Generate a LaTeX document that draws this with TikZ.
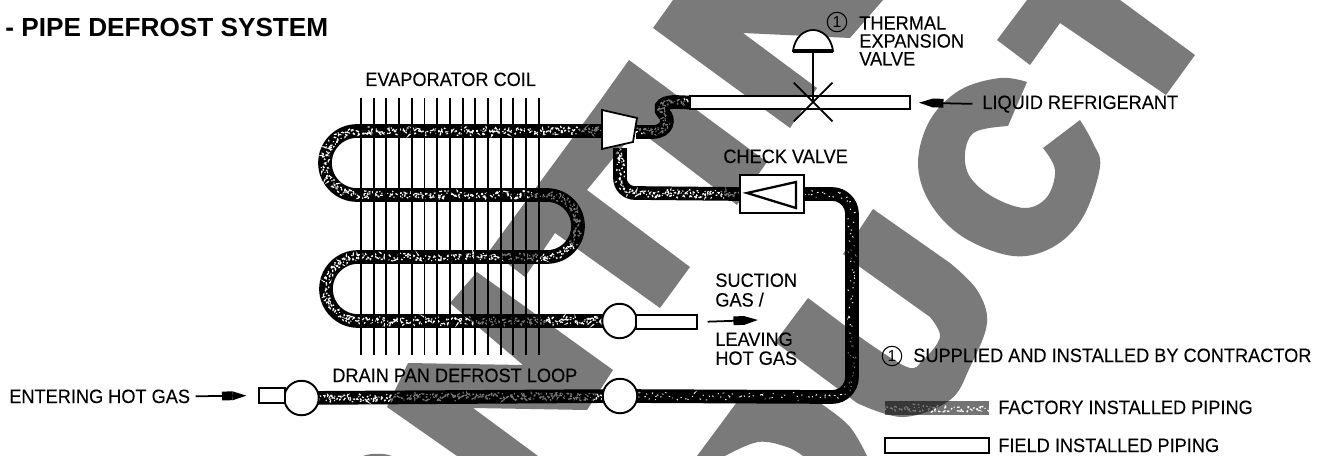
\documentclass[tikz,border=0pt]{standalone}
\usepackage{fontspec}
\setmainfont{Liberation Sans}
\newfontfamily\labfont[FakeStretch=0.94,FakeBold=0.12]{Liberation Sans}
\usepackage{tikz}
\usetikzlibrary{arrows.meta,decorations.pathmorphing,backgrounds,shapes.misc}
\definecolor{wmgray}{RGB}{122,122,122}
\tikzset{
  lab/.style={font=\labfont\fontsize{11}{10.2}\selectfont,inner sep=0pt,align=left},
  num/.style={circle,draw=black,line width=0.6pt,minimum size=3.9mm,inner sep=0pt,font=\fontsize{9}{9}\selectfont},
  hdr/.style={circle,draw=black,fill=white,line width=1.1pt,minimum size=6.9mm,inner sep=0pt},
  fieldp/.style={rectangle,draw=black,fill=white,line width=1.1pt,inner sep=0pt},
  chk/.style={rectangle,draw=black,fill=white,line width=0.7pt,inner sep=0pt,minimum width=12.8mm,minimum height=7.6mm},
  txv/.style={cross out,draw=black,line width=1pt,inner sep=0pt,minimum size=7.4mm},
  fin/.style={line width=1.05pt,black},
  speck/.style={draw=white,line width=0.7pt,decorate,line cap=butt,
    decoration={random steps,segment length=1.2pt,amplitude=2.5pt},
    dash pattern=on 1.1pt off 1pt on 0.5pt off 1.5pt on 1.4pt off 1.2pt},
  pipe/.style={draw=black,line width=7.8pt,postaction={speck},postaction={speck,dash pattern=on 0.6pt off 2.4pt on 1pt off 1.7pt}},
  darkpipe/.style={draw=black,line width=7.8pt,postaction={speck,line width=0.5pt,dash pattern=on 0.7pt off 3pt on 0.9pt off 4.5pt}},
  flow/.style={-{Rectangle[length=6pt,width=5pt]Triangle[length=8pt,width=4.8pt]},line width=1pt,black},
  wm/.style={fill=wmgray},
}
\begin{document}
\begin{tikzpicture}[x=0.02cm,y=-0.02cm]
  \useasboundingbox (0,0) rectangle (1325,456);
  \pgfmathsetseed{17}

  \node[font=\fontsize{14.9}{14.9}\selectfont\bfseries,inner sep=0pt,anchor=base west] (title) at (5,37) {- PIPE DEFROST SYSTEM};
  \node[lab,anchor=base west] (evap) at (365,86) {EVAPORATOR COIL};
  \node[lab,anchor=north west] (txvlab) at (859,16) {THERMAL\\EXPANSION\\VALVE};
  \node[num] (numa) at (837,22) {1};
  \node[lab,anchor=base west] (liq) at (982,109) {LIQUID REFRIGERANT};
  \node[lab,anchor=base west] (chklab) at (723,163) {CHECK VALVE};
  \node[lab,anchor=north west,font=\labfont\fontsize{11}{11.2}\selectfont] (suc) at (715,273) {SUCTION\\GAS /};
  \node[lab,anchor=north west,font=\labfont\fontsize{11}{10.8}\selectfont] (lvg) at (715,332) {LEAVING\\HOT GAS};
  \node[lab,anchor=base west] (drain) at (332,382) {DRAIN PAN DEFROST LOOP};
  \node[lab,anchor=base west] (enter) at (9,403) {ENTERING HOT GAS};
  \node[num] (numb) at (892,356) {1};
  \node[lab,anchor=base west] (sup) at (913,362) {SUPPLIED AND INSTALLED BY CONTRACTOR};
  \node[lab,anchor=base west] (factlab) at (998,414) {FACTORY INSTALLED PIPING};
  \node[lab,anchor=base west] (fieldlab) at (998,452) {FIELD INSTALLED PIPING};

  \node[hdr] (hdra) at (301.5,398) {};
  \node[hdr] (hdrb) at (620,396) {};
  \node[hdr] (hdrc) at (619.5,321) {};
  \node[fieldp,minimum width=5.2mm,minimum height=3mm] (fieldin) at (272,395.5) {};
  \node[fieldp,minimum width=12.2mm,minimum height=2.8mm] (fieldsuc) at (666.5,322) {};
  \node[fieldp,minimum width=44mm,minimum height=2.6mm] (fieldliq) at (800,102.5) {};
  \node[fieldp,minimum width=20.8mm,minimum height=3mm] (fieldleg) at (937,445.5) {};
  \node[chk] (chkv) at (772,194) {};
  \node[txv] (txvx) at (813,102) {};
  \coordinate (dome) at (813,51);
  \coordinate (compw) at (602,131);
  \coordinate (compe) at (636,132);
  \coordinate (comps) at (620,148);
  \coordinate (sucend) at (758,320);
  \coordinate (factl) at (885,408);
  \coordinate (factr) at (989,408);

  \filldraw[fill=white,draw=black,line width=1pt] (602,110) -- (637,118) -- (633,142) -- (602,149) -- cycle;
  \filldraw[fill=white,draw=black,line width=1pt] (dome) ++(-20,0) .. controls (795,36) and (805,30) .. (813,30) .. controls (821,30) and (831,36) .. (833,51) -- cycle;
  \draw[line width=2pt] (793,51) -- (833,51);
  \draw[line width=1.1pt] (dome) -- (txvx.center);
  \draw[line width=1.3pt] (747,193) -- (796,182) -- (796,208) -- cycle;

  \draw[flow,shorten <=3pt,shorten >=6.5pt] (enter.east) -- (fieldin.west);
  \draw[flow,shorten <=5.5pt] (fieldsuc.east) -- (sucend);
  \draw[flow,shorten <=5.5pt,shorten >=4.5pt] (liq.west) -- (fieldliq.east);

  \begin{scope}[on background layer]
    \path[pipe] (compw) -- (357,131) arc[start angle=270,end angle=90,radius=32] -- (547,195)
      arc[start angle=-90,end angle=90,radius=31] -- (358,257) arc[start angle=270,end angle=90,radius=32]
      -- (hdrc.center);
    \path[pipe] (compe) -- (652,132) .. controls (669,132) and (669,118) .. (664,114)
      .. controls (660,110) and (658,102) .. (676,102) -- (fieldliq.west);
    \path[pipe] (comps) -- (620,178) arc[start angle=180,end angle=90,radius=15] -- (chkv.west);
    \path[darkpipe] (chkv.east) -- (832,194) arc[start angle=-90,end angle=0,radius=20] -- (852,377)
      arc[start angle=0,end angle=90,radius=20] -- (hdrb.center);
    \path[pipe] (hdra.center) -- (hdrb.center);
    \path[draw=black!55,line width=7.8pt,postaction={speck}] (factl) -- (factr);

    \begin{scope}[blend mode=multiply]
      \fill[wm] (653,28) -- (673,0) -- (883,0) -- (850,38) -- (743,33) -- (817,88) -- (790,128) -- cycle;
      \fill[wm] (490,250) -- (599,102) -- (629,60) -- (767,162) -- (737,205) -- (637,129) -- (587,190)
        -- (690,267) -- (660,308) -- (555,233) -- (525,277) -- cycle;
      \fill[wm] (477,272) -- (450,303) -- (523,365) -- (408,363) -- (387,407) -- (457,456) -- (538,456)
        -- (473,408) -- (587,410) -- (613,370) -- cycle;
      \fill[wm] (873,209) -- (950,263)
        -- plot[smooth,tension=0.6] coordinates {(950,263)(977,290)(987,323)(970,367)(950,400)(903,417)(857,403)}
        -- (775,342) -- (808,298) -- (860,337)
        -- plot[smooth,tension=0.6] coordinates {(860,337)(907,367)(923,360)(940,337)(930,317)}
        -- (860,267) -- (843,254) -- cycle;
      \fill[wm] plot[smooth,tension=0.6] coordinates {(1027,82)(1000,78)(960,90)(930,120)(918,163)(930,203)(963,237)(1013,256)(1053,247)(1083,217)(1100,167)(1093,143)(1080,120)}
        -- plot[smooth,tension=0.6] coordinates {(1043,148)(1055,170)(1047,197)(1025,208)(993,197)(970,177)(965,153)(975,132)(1008,126)}
        -- cycle;
      \fill[wm] (1027,0) -- (1120,0) -- (1195,55) -- (1166,95) -- (1060,23) -- (1030,65) -- (997,40) -- cycle;
      \fill[wm] (697,456) -- (740,398) -- (810,398)
        -- plot[smooth,tension=0.6] coordinates {(810,398)(823,405)(850,427)(867,456)}
        -- (803,456)
        -- plot[smooth,tension=0.6] coordinates {(803,456)(787,447)(758,442)(725,456)}
        -- cycle;
      \fill[wm] (363,456) .. controls (370,453) and (385,453) .. (392,456) -- cycle;
    \end{scope}

    \foreach \i in {0,...,14}
      \draw[fin] ({361+12.7*\i},98) -- ({361+12.7*\i},355);
  \end{scope}
\end{tikzpicture}
\end{document}
